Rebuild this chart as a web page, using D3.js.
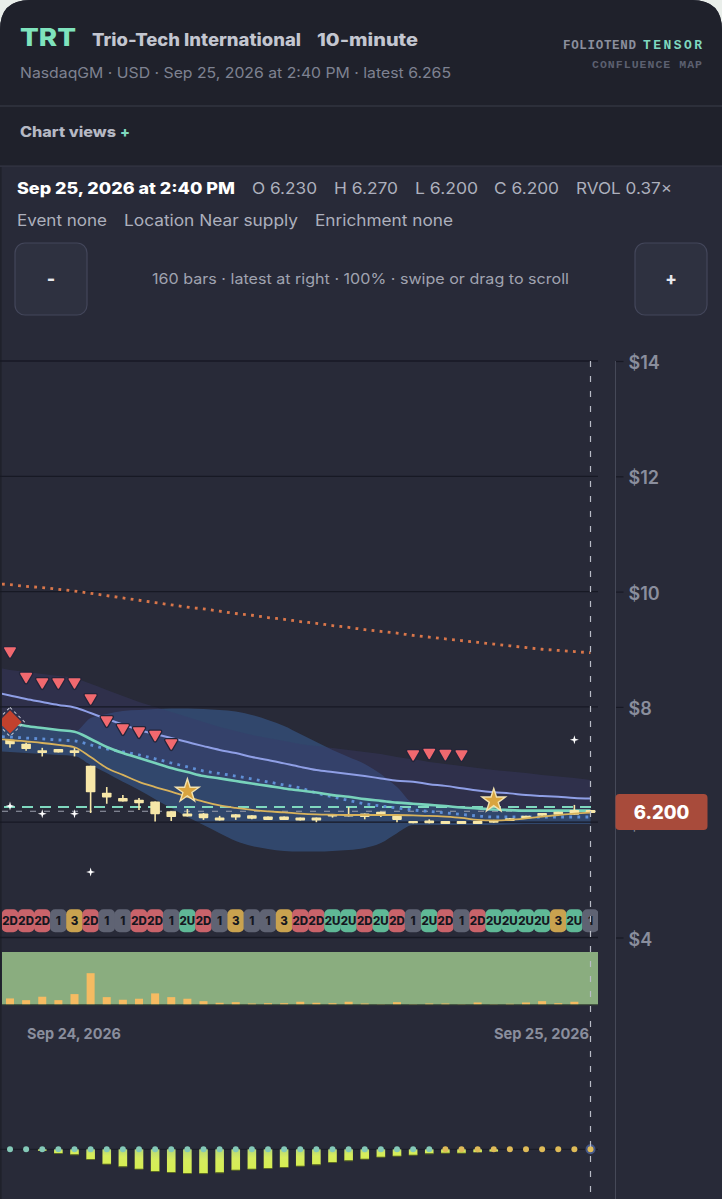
<!DOCTYPE html>
<html>
<head>
<meta charset="utf-8">
<script src="https://cdn.jsdelivr.net/npm/d3@7"></script>
<style>
  html, body { margin: 0; padding: 0; background: #e9eeea; }
  svg { display: block; font-family: Inter, "Noto Sans", sans-serif; }
</style>
</head>
<body>
<svg id="chart" width="722" height="1199"></svg>
<script>
// one entry per bar, oldest first
const patterns = ['2D','2D','2D','1','3','2D','1','1','2D','2D','1','2U','2D','1','3','1','1','3','2D','2D','2U','2U','2D','2U','2D','1','2U','2D','1','2D','2U','2U','2U','2U','3','2U','1'];
const opens = [7.43,7.36,7.25,7.27,7.25,6.98,6.51,6.42,6.39,6.36,6.19,6.15,6.15,6.08,6.14,6.12,6.10,6.10,6.08,6.08,6.14,6.14,6.15,6.18,6.11,6.02,6.03,6.02,6.02,6.02,6.04,6.07,6.11,6.16,6.18,6.21,6.21];
const closes = [7.35,7.27,7.20,7.21,7.20,6.52,6.43,6.36,6.33,6.14,6.09,6.10,6.07,6.03,6.08,6.06,6.04,6.04,6.03,6.03,6.10,6.10,6.09,6.13,6.04,5.98,5.98,5.97,5.97,5.97,5.99,6.02,6.07,6.11,6.13,6.13,6.16];
const highs = [7.43,7.38,7.29,7.27,7.30,6.98,6.61,6.47,6.42,6.36,6.19,6.23,6.16,6.11,6.14,6.12,6.10,6.10,6.08,6.08,6.14,6.26,6.15,6.18,6.11,6.02,6.05,6.02,6.02,6.02,6.04,6.07,6.11,6.16,6.18,6.30,6.21];
const lows = [7.29,7.24,7.14,7.21,7.14,6.16,6.32,6.36,6.21,6.01,6.02,6.10,6.04,6.03,6.04,6.05,6.04,6.04,6.03,6.00,6.08,6.10,6.05,6.09,6.00,5.98,5.98,5.97,5.97,5.97,5.99,6.02,6.07,6.11,6.13,6.13,6.16];
const volumes = [6,4.3,7.7,4.3,10.3,31,7.3,4.7,5.7,11,7.3,5.7,3.3,1.7,2.3,1,1.3,1.3,2.7,1.7,1.3,2.7,1,0.3,2.3,0.3,1,1,0.3,2,0.3,0.7,2,3.3,1.3,2.7,0];
const oscillator = [0,0,-1.5,-4,-5.3,-10,-14.7,-17.3,-19.7,-22,-23,-24,-24.1,-23.3,-20.7,-19.7,-19,-18,-16.7,-15.3,-13,-11.3,-9.7,-7.7,-6.7,-5.7,-4.3,-3.7,-3.7,-3,-2.3,0,0,0,0,0,0];

// these start one bar before the first candle, the chart is scrolled
const slowLine = [8.26,8.198,8.137,8.085,8.033,7.99,7.894,7.79,7.695,7.60,7.53,7.46,7.39,7.32,7.253,7.20,7.13,7.08,7.02,6.96,6.906,6.87,6.836,6.80,6.76,6.72,6.70,6.66,6.63,6.59,6.55,6.52,6.50,6.47,6.455,6.44,6.42,6.41];
const midLine = [7.773,7.72,7.67,7.634,7.60,7.57,7.444,7.305,7.20,7.114,7.027,6.94,6.87,6.80,6.76,6.715,6.67,6.63,6.585,6.55,6.516,6.47,6.44,6.40,6.37,6.34,6.32,6.30,6.28,6.255,6.24,6.22,6.21,6.20,6.20,6.20,6.20,6.20];
const dottedLine = [7.487,7.478,7.46,7.444,7.426,7.41,7.34,7.27,7.22,7.166,7.10,7.027,6.96,6.888,6.845,6.80,6.75,6.70,6.646,6.594,6.507,6.44,6.377,6.32,6.28,6.247,6.212,6.186,6.16,6.134,6.108,6.09,6.09,6.09,6.09,6.09,6.09,6.09];
const fastLine = [7.444,7.426,7.40,7.374,7.34,7.30,7.13,6.94,6.82,6.70,6.61,6.53,6.44,6.356,6.29,6.247,6.212,6.186,6.17,6.15,6.137,6.13,6.125,6.125,6.125,6.125,6.117,6.11,6.096,6.075,6.04,6.03,6.04,6.065,6.096,6.125,6.15,6.165];
const redLine = [10.14,10.12,10.09,10.07,10.04,10.01,9.97,9.93,9.89,9.85,9.81,9.77,9.73,9.70,9.66,9.62,9.59,9.55,9.52,9.48,9.45,9.41,9.38,9.34,9.31,9.28,9.24,9.21,9.18,9.15,9.12,9.09,9.06,9.03,9.00,8.98,8.96,8.94];
const purpleUpper = [8.692,8.64,8.606,8.571,8.536,8.50,8.40,8.293,8.19,8.085,8.00,7.912,7.825,7.74,7.652,7.582,7.513,7.46,7.41,7.357,7.32,7.287,7.253,7.218,7.183,7.13,7.09,7.045,7.01,6.975,6.94,6.906,6.88,6.853,6.82,6.793,6.767,6.732];
const blueUpper = [7.773,7.72,7.67,7.634,7.60,7.57,7.808,7.877,7.93,7.947,7.964,7.973,7.973,7.964,7.947,7.92,7.86,7.773,7.67,7.53,7.39,7.253,7.13,7.01,6.836,6.61,6.333,6.30,6.28,6.255,6.24,6.22,6.21,6.20,6.20,6.20,6.20,6.20];
const blueLower = [7.235,7.218,7.20,7.183,7.166,7.15,6.993,6.854,6.70,6.559,6.40,6.247,6.09,5.95,5.81,5.674,5.587,5.535,5.50,5.49,5.49,5.50,5.518,5.553,5.64,5.81,5.95,5.95,5.95,5.95,5.95,5.95,5.96,5.968,5.968,5.968,5.968,5.968];

const sellBars = [0,1,2,3,4,5,6,7,8,9,10,25,26,27,28];
const sellPrices = [8.97,8.528,8.432,8.432,8.432,8.155,7.773,7.634,7.582,7.52,7.374,7.183,7.21,7.19,7.183];
const starBars = [11,30];
const starPrices = [6.54,6.37];
const sparkBars = [0,2,4,5,35];
const sparkPrices = [6.28,6.145,6.145,5.136,7.43];
const diamondBar = 0;
const diamondPrice = 7.74;
const supplyLevel = 6.265;
const closeLevel = 6.19;
const priceTicks = [14,12,10,8,6,4];
const dateLabels = ['Sep 24, 2026','Sep 25, 2026'];

const svg = d3.select('#chart');
const x = d3.scaleLinear().domain([0, 36]).range([10, 590.5]);
const y = d3.scaleLinear().domain([14, 4]).range([361, 937.5]);
const volY = d3.scaleLinear().domain([0, 52]).range([1004.5, 952]);
const oscY = d3.scaleLinear().domain([0, -24]).range([1149.3, 1173.3]);

function label(parent, str, x0, x1, base, size, weight, fill, family) {
  return parent.append('text')
    .attr('x', x0).attr('y', base)
    .attr('textLength', x1 - x0).attr('lengthAdjust', family ? 'spacing' : 'spacingAndGlyphs')
    .attr('font-size', size).attr('font-weight', weight).attr('fill', fill)
    .attr('font-family', family || null)
    .text(str);
}

// card
svg.append('path')
  .attr('d', 'M0,30 Q0,0 30,0 H692 Q722,0 722,30 V1199 H0 Z')
  .attr('fill', '#282a38');
svg.append('path')
  .attr('d', 'M0,166 V30 Q0,0 30,0 H692 Q722,0 722,30 V166 Z')
  .attr('fill', '#1f212b');
svg.append('line').attr('x1', 0).attr('x2', 722).attr('y1', 106).attr('y2', 106).attr('stroke', '#3b3e4b').attr('stroke-width', 1.2);
svg.append('line').attr('x1', 0).attr('x2', 722).attr('y1', 166).attr('y2', 166).attr('stroke', '#363947').attr('stroke-width', 1.2);

// header
const mono = '"Liberation Mono", "DejaVu Sans Mono", monospace';
label(svg, 'TRT', 20, 76, 46, 25, 800, '#7fe3bd');
label(svg, 'Trio-Tech International', 92, 301, 46, 17, 800, '#c3c6d0');
label(svg, '10-minute', 317, 418, 46, 17, 800, '#c3c6d0');
label(svg, 'NasdaqGM · USD · Sep 25, 2026 at 2:40 PM · latest 6.265', 20, 451, 78, 14.5, 400, '#7e8291');
label(svg, 'FOLIOTEND', 563, 636, 49, 12.5, 700, '#8b8f9d', mono);
label(svg, 'TENSOR', 643, 702, 49, 13, 700, '#7fd8bf', mono);
label(svg, 'CONFLUENCE MAP', 592, 702, 67.5, 11.5, 700, '#5c6070', mono);
label(svg, 'Chart views', 20, 116, 137, 14, 800, '#b6b9c4');
label(svg, '+', 120, 130, 137, 14, 800, '#7fd8bf');

// readout rows
label(svg, 'Sep 25, 2026 at 2:40 PM', 17, 235, 194, 16, 800, '#ffffff');
[['O 6.230', 252, 317], ['H 6.270', 334, 398], ['L 6.200', 415, 478], ['C 6.200', 494, 559], ['RVOL 0.37×', 576, 672],
 ['Event none', 17, 107], ['Location Near supply', 124, 298], ['Enrichment none', 315, 453]].forEach((d, i) => {
  label(svg, d[0], d[1], d[2], i < 5 ? 194 : 226, 16, 400, '#adb0bd');
});

// zoom buttons
[15, 635].forEach(bx => {
  svg.append('rect').attr('x', bx).attr('y', 243).attr('width', 72).attr('height', 72).attr('rx', 10)
    .attr('fill', '#2e3140').attr('stroke', '#43465a').attr('stroke-width', 1.2);
});
svg.append('text').attr('x', 51).attr('y', 285).attr('text-anchor', 'middle').attr('font-size', 18).attr('font-weight', 800).attr('fill', '#e6e7ec').text('-');
svg.append('text').attr('x', 671).attr('y', 285).attr('text-anchor', 'middle').attr('font-size', 17).attr('font-weight', 800).attr('fill', '#e6e7ec').text('+');
label(svg, '160 bars · latest at right · 100% · swipe or drag to scroll', 152, 569, 284, 14.5, 400, '#a0a3b0');

// price panel
svg.append('line').attr('x1', 0.8).attr('x2', 0.8).attr('y1', 167).attr('y2', 1199).attr('stroke', '#1f212b').attr('stroke-width', 1.6);
const plot = svg.append('g');
plot.append('clipPath').attr('id', 'plotClip').append('rect').attr('x', 2).attr('y', 340).attr('width', 596).attr('height', 620);
const marks = plot.append('g').attr('clip-path', 'url(#plotClip)');

const yAxis = d3.axisRight(y).tickValues(priceTicks).tickSize(8).tickPadding(5).tickFormat(d => '$' + d);
const axisG = svg.append('g').attr('transform', 'translate(615.5,0)').call(yAxis);
axisG.select('.domain').remove();
axisG.selectAll('line').attr('stroke', '#171924').attr('stroke-width', 1.2);
axisG.selectAll('text').attr('dy', '0.42em').attr('font-size', 18).attr('font-weight', 600).attr('fill', '#8a8e9d').attr('font-family', 'Inter');

const lineBars = d3.range(-1, 37);
const bandPath = (up, low) => d3.area().curve(d3.curveMonotoneX)
  .x((d, i) => x(lineBars[i])).y0((d, i) => y(low[i])).y1((d, i) => y(up[i]));
const linePath = d3.line().curve(d3.curveMonotoneX).x((d, i) => x(lineBars[i])).y(d => y(d));

marks.append('path').datum(blueUpper).attr('d', bandPath(blueUpper, blueLower)).attr('fill', '#32496f').attr('fill-opacity', 0.95);
marks.append('path').datum(purpleUpper).attr('d', bandPath(purpleUpper, midLine)).attr('fill', '#3a3a68').attr('fill-opacity', 0.4);

marks.selectAll('.grid').data(priceTicks).enter().append('line').attr('class', 'grid')
  .attr('x1', 0).attr('x2', 598).attr('y1', d => y(d)).attr('y2', d => y(d))
  .attr('stroke', '#171924').attr('stroke-width', 1.3);
svg.selectAll('.gridStart').data(priceTicks).enter().append('line').attr('class', 'gridStart')
  .attr('x1', 0).attr('x2', 2).attr('y1', d => y(d)).attr('y2', d => y(d))
  .attr('stroke', '#171924').attr('stroke-width', 1.3);

// levels
marks.append('line').attr('x1', 2).attr('x2', 598).attr('y1', y(closeLevel)).attr('y2', y(closeLevel))
  .attr('stroke', '#9aa0ad').attr('stroke-width', 1.1).attr('stroke-dasharray', '6 8');
marks.append('line').attr('x1', 4).attr('x2', 598).attr('y1', y(supplyLevel)).attr('y2', y(supplyLevel))
  .attr('stroke', '#7fd8bf').attr('stroke-width', 2).attr('stroke-dasharray', '11 7');

// moving lines
marks.append('path').datum(redLine).attr('d', linePath).attr('fill', 'none').attr('stroke', '#d9764a').attr('stroke-width', 2.8).attr('stroke-dasharray', '2.8 5.3');
marks.append('path').datum(slowLine).attr('d', linePath).attr('fill', 'none').attr('stroke', '#8f9fe6').attr('stroke-width', 2);
marks.append('path').datum(dottedLine).attr('d', linePath).attr('fill', 'none').attr('stroke', '#5f8fd6').attr('stroke-width', 2.8).attr('stroke-dasharray', '2.8 5.3');
marks.append('path').datum(midLine).attr('d', linePath).attr('fill', 'none').attr('stroke', '#78d3bb').attr('stroke-width', 2.6);

// candles
const candles = marks.selectAll('.candle').data(patterns).enter().append('g').attr('class', 'candle');
candles.append('line').attr('x1', (d, i) => x(i)).attr('x2', (d, i) => x(i))
  .attr('y1', (d, i) => y(highs[i])).attr('y2', (d, i) => y(lows[i]))
  .attr('stroke', '#f7e7a8').attr('stroke-width', 1.6);
candles.append('rect').attr('x', (d, i) => x(i) - 4.8).attr('width', 9.6)
  .attr('y', (d, i) => y(opens[i])).attr('height', (d, i) => y(closes[i]) - y(opens[i]))
  .attr('rx', 0.8).attr('fill', '#f7e7a8');

marks.append('path').datum(fastLine).attr('d', linePath).attr('fill', 'none').attr('stroke', '#d8b25c').attr('stroke-width', 1.8);

// signals
const at = (b, p) => `translate(${x(b)},${y(p)})`;
const triangle = d3.symbol(d3.symbolTriangle, 46)();
marks.selectAll('.sellEdge').data(sellBars).enter().append('path').attr('class', 'sellEdge')
  .attr('d', triangle)
  .attr('transform', (d, i) => at(d, sellPrices[i]) + ' rotate(180)')
  .attr('fill', '#23253a').attr('stroke', '#23253a').attr('stroke-width', 4.2).attr('stroke-linejoin', 'round');
marks.selectAll('.sell').data(sellBars).enter().append('path').attr('class', 'sell')
  .attr('d', triangle)
  .attr('transform', (d, i) => at(d, sellPrices[i]) + ' rotate(180)')
  .attr('fill', '#f1696f').attr('stroke', '#f1696f').attr('stroke-width', 1.6).attr('stroke-linejoin', 'round');

const sparkle = { draw(ctx, size) {
  const r = Math.sqrt(size), c = r * 0.22;
  ctx.moveTo(0, -r); ctx.lineTo(c, -c); ctx.lineTo(r, 0); ctx.lineTo(c, c);
  ctx.lineTo(0, r); ctx.lineTo(-c, c); ctx.lineTo(-r, 0); ctx.lineTo(-c, -c);
  ctx.closePath();
} };
marks.selectAll('.spark').data(sparkBars).enter().append('path').attr('class', 'spark')
  .attr('d', d3.symbol(sparkle, 20)())
  .attr('transform', (d, i) => at(d, sparkPrices[i]))
  .attr('fill', '#ffffff');

marks.selectAll('.star').data(starBars).enter().append('path').attr('class', 'star')
  .attr('d', d3.symbol(d3.symbolStar, 170)())
  .attr('transform', (d, i) => at(d, starPrices[i]))
  .attr('fill', '#d9a43f').attr('stroke', '#f2e2ae').attr('stroke-width', 1.4);

marks.append('path').attr('d', d3.symbol(d3.symbolSquare, 420)())
  .attr('transform', at(diamondBar, diamondPrice) + ' rotate(45)')
  .attr('fill', 'none').attr('stroke', '#c9ccd6').attr('stroke-width', 1).attr('stroke-dasharray', '3 3');
marks.append('path').attr('d', d3.symbol(d3.symbolSquare, 270)())
  .attr('transform', at(diamondBar, diamondPrice) + ' rotate(45)')
  .attr('fill', '#c2412d');

// pattern strip
const chipColor = d3.scaleOrdinal().domain(['2D', '1', '3', '2U']).range(['#c9636a', '#5f6373', '#c9a24f', '#5fb896']);
const chips = marks.selectAll('.chip').data(patterns).enter().append('g').attr('class', 'chip');
chips.append('rect').attr('x', (d, i) => x(i) - 8.3).attr('y', 909.3).attr('width', 16.6).attr('height', 23).attr('rx', 5)
  .attr('fill', d => chipColor(d));
chips.append('text').attr('x', (d, i) => x(i)).attr('y', 925).attr('text-anchor', 'middle')
  .attr('font-size', 11.5).attr('font-weight', 800).attr('fill', '#15171f').text(d => d);

// volume panel
svg.append('rect').attr('x', 2).attr('y', 952).attr('width', 596).attr('height', 52.5).attr('fill', '#8aad7f');
svg.selectAll('.vol').data(volumes).enter().append('rect').attr('class', 'vol')
  .attr('x', (d, i) => x(i) - 4).attr('width', 8)
  .attr('y', d => volY(d)).attr('height', d => volY(0) - volY(d))
  .attr('fill', '#f5bb62');
svg.append('line').attr('x1', 2).attr('x2', 598).attr('y1', 1004.8).attr('y2', 1004.8).attr('stroke', '#3a4a34').attr('stroke-width', 0.8);

// date labels
label(svg, dateLabels[0], 27, 121, 1039, 15, 700, '#8a8e9d');
label(svg, dateLabels[1], 494, 589, 1039, 15, 700, '#8a8e9d');

// oscillator
const oscFill = svg.append('defs').append('linearGradient').attr('id', 'oscFill').attr('x1', 0).attr('x2', 0).attr('y1', 0).attr('y2', 1);
oscFill.append('stop').attr('offset', 0).attr('stop-color', '#b7d878');
oscFill.append('stop').attr('offset', 0.45).attr('stop-color', '#d6ec5e');
oscFill.append('stop').attr('offset', 1).attr('stop-color', '#d6ee52');
svg.append('line').attr('x1', 0).attr('x2', 598).attr('y1', oscY(0)).attr('y2', oscY(0)).attr('stroke', '#171924').attr('stroke-width', 1);
svg.selectAll('.osc').data(oscillator).enter().append('rect').attr('class', 'osc')
  .attr('x', (d, i) => x(i) - 4.3).attr('width', 8.6)
  .attr('y', oscY(0)).attr('height', d => oscY(d) - oscY(0))
  .attr('fill', 'url(#oscFill)');
svg.selectAll('.oscEdge').data(oscillator).enter().append('rect').attr('class', 'oscEdge')
  .attr('x', (d, i) => x(i) - 4.3).attr('width', 8.6)
  .attr('y', d => oscY(d) - 0.3).attr('height', d => d < -3 ? 1 : 0)
  .attr('fill', '#5d6b22');
svg.append('circle').attr('cx', x(36)).attr('cy', oscY(0)).attr('r', 5).attr('fill', '#5f7fd0').attr('fill-opacity', 0.55);
svg.selectAll('.oscDot').data(oscillator).enter().append('circle').attr('class', 'oscDot')
  .attr('cx', (d, i) => x(i)).attr('cy', oscY(0)).attr('r', 3)
  .attr('fill', (d, i) => i < 27 ? '#84c9b8' : '#dfbb58');

// axis rule and crosshair
svg.append('line').attr('x1', 615.5).attr('x2', 615.5).attr('y1', 361).attr('y2', 1199).attr('stroke', '#464958').attr('stroke-width', 1);
svg.append('line').attr('x1', x(36)).attr('x2', x(36)).attr('y1', 361).attr('y2', 1199)
  .attr('stroke', '#b9bcc6').attr('stroke-width', 1.2).attr('stroke-dasharray', '6 9');

// last price tag
svg.append('rect').attr('x', 615.5).attr('y', 794).attr('width', 92).attr('height', 36).attr('rx', 4).attr('fill', '#a84b3b');
svg.append('text').attr('x', 661.5).attr('y', 818.5).attr('text-anchor', 'middle')
  .attr('font-size', 18.5).attr('font-weight', 800).attr('fill', '#ffffff').text('6.200');
</script>
</body>
</html>
